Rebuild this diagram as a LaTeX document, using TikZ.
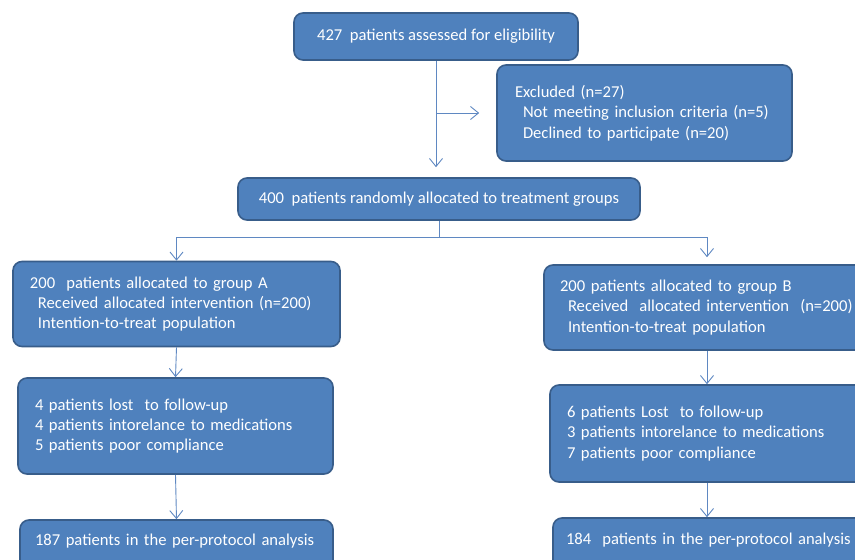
\documentclass[tikz,border=0pt]{standalone}
\usepackage{fontspec}
\setmainfont{Carlito}
\usetikzlibrary{arrows.meta}
\definecolor{boxfill}{HTML}{4F81BD}
\definecolor{boxline}{HTML}{385D8A}
\definecolor{conn}{HTML}{5F88C2}
\begin{document}
\begin{tikzpicture}[x=1pt,y=-1pt,
  box/.style={draw=boxline, line width=1.6pt, fill=boxfill, rounded corners=9pt,
    text=white, font=\fontsize{16.6}{20.3}\selectfont, inner sep=0pt},
  lbox/.style={box, align=left},
  conn/.style={draw=conn, line width=0.9pt, -{Straight Barb[length=8pt,width=13pt]}},
  cline/.style={draw=conn, line width=0.9pt}]
\useasboundingbox (0,0) rectangle (855,560);
\clip (0,0) rectangle (855,560);
\fill[white] (0,0) rectangle (855,560);

\node[box, minimum width=284pt, minimum height=47pt] (elig) at (436,36.5)
  {427\ \ patients assessed for eligibility};
\node[lbox, minimum width=295pt, minimum height=96pt, text width=259pt] (excl) at (644.5,113)
  {\mbox{Excluded (n=27)}\\\mbox{\hspace*{8pt}Not meeting inclusion criteria (n=5)}\\\mbox{\hspace*{8pt}Declined to participate (n=20)}};
\node[box, minimum width=402pt, minimum height=42pt] (rand) at (439,199)
  {400\ \ patients randomly allocated to treatment groups};

\node[lbox, minimum width=327pt, minimum height=85pt, text width=293pt] (ga) at (176.5,304)
  {\mbox{200\ \ patients allocated to group A}\\\mbox{\hspace*{8pt}Received allocated intervention (n=200)}\\\mbox{\hspace*{8pt}Intention-to-treat population}};
\node[lbox, minimum width=315pt, minimum height=96pt, text width=281pt] (la) at (175.5,426)
  {\mbox{4 patients lost\ \ to follow-up}\\\mbox{4 patients intorelance to medications}\\\mbox{5 patients poor compliance}};
\node[lbox, minimum width=313pt, minimum height=80pt, text width=283pt, text depth=40pt] (pa) at (176.5,560)
  {\mbox{187 patients in the per-protocol analysis}};

\coordinate (colB) at (707,237);
\node[lbox, minimum width=336pt, minimum height=85pt, text width=304pt] (gb) at (712,307.5)
  {\mbox{200 patients allocated to group B}\\\mbox{\hspace*{8pt}Received\ \ allocated intervention\ \ (n=200)}\\\mbox{\hspace*{8pt}Intention-to-treat population}};
\node[lbox, minimum width=330pt, minimum height=97pt, text width=296pt] (lb) at (715,433.5)
  {\mbox{6 patients Lost\ \ to follow-up}\\\mbox{3 patients intorelance to medications}\\\mbox{7 patients poor compliance}};
\node[lbox, minimum width=327pt, minimum height=82pt, text width=301pt, text depth=40pt] (pb) at (716.5,559)
  {\mbox{184\ \ patients in the per-protocol analysis}};

\draw[conn, shorten >=10pt] (elig.south) -- (elig.south |- rand.north);
\coordinate (j) at (elig.south |- excl.west);
\draw[conn, shorten >=17pt] (j) -- (excl.west);
\coordinate (split) at (439,237);
\draw[cline] (rand.south) -- (split);
\draw[conn] (split) -| (ga.north);
\draw[conn, shorten >=7pt] (split) -| (colB |- gb.north);
\draw[conn] (ga.south) -- (la.north);
\draw[conn] (la.south) -- (pa.north);
\draw[conn] (colB |- gb.south) -- (colB |- lb.north);
\draw[conn] (colB |- lb.south) -- (colB |- pb.north);
\end{tikzpicture}
\end{document}
